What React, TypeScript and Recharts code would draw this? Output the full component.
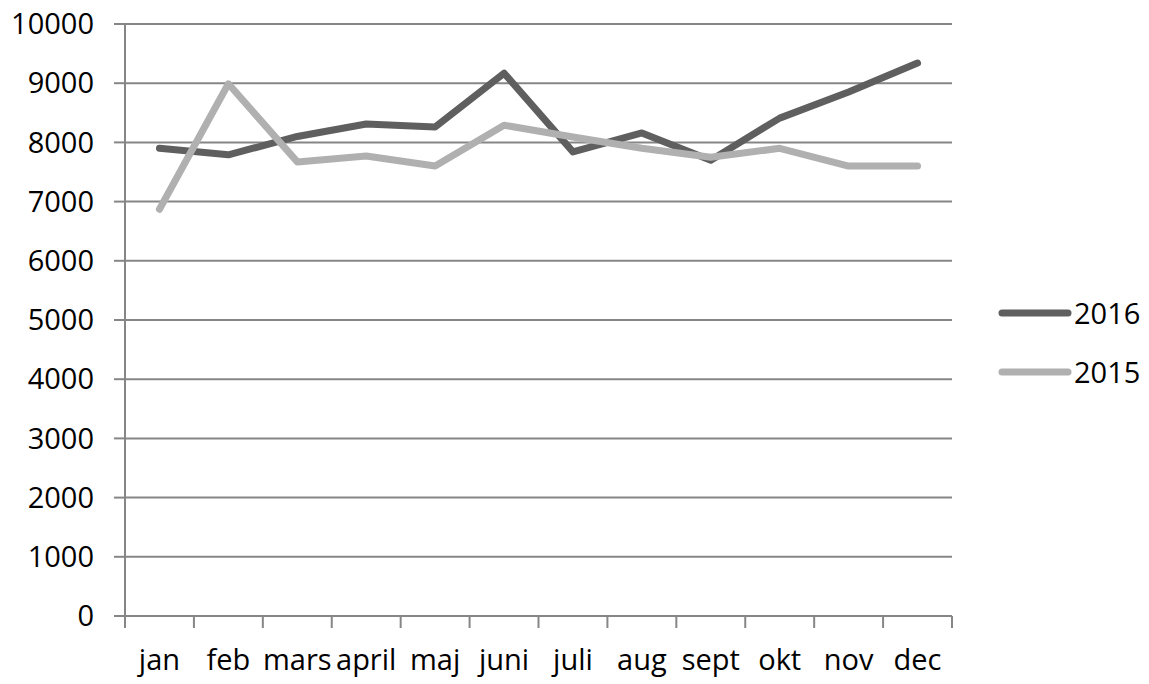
import React from "react";
import { LineChart, Line, XAxis, YAxis, CartesianGrid } from "recharts";

const months = ["jan", "feb", "mars", "april", "maj", "juni", "juli", "aug", "sept", "okt", "nov", "dec"];
const sales2016 = [7900, 7790, 8100, 8310, 8260, 9170, 7840, 8160, 7700, 8410, 8850, 9340];
const sales2015 = [6870, 8990, 7670, 7770, 7600, 8290, 8090, 7900, 7750, 7900, 7600, 7600];
const yTicks = [0, 1000, 2000, 3000, 4000, 5000, 6000, 7000, 8000, 9000, 10000];

const data = months.map((m, i) => ({ month: m, y2016: sales2016[i], y2015: sales2015[i] }));

const FONT = "'Open Sans', sans-serif";
const FS = 29;
const W = 1149;
const H = 684;
const X_H = 68;
const M = { top: 24, right: 197, bottom: 0, left: 0 };
const Y_W = 125;
const BAND = (W - M.right - Y_W) / months.length;

function MonthTick(props: any) {
  const { x, y, payload, index } = props;
  const top = y - 12 - 21;
  return (
    <g>
      <line x1={x - BAND / 2} y1={top} x2={x - BAND / 2} y2={top + 12} stroke="#868686" strokeWidth={2} />
      {index === months.length - 1 && (
        <line x1={x + BAND / 2} y1={top} x2={x + BAND / 2} y2={top + 12} stroke="#868686" strokeWidth={2} />
      )}
      <text x={x} y={y} dy="0.71em" textAnchor="middle" fill="#000" fontSize={FS} fontFamily={FONT}>
        {payload.value}
      </text>
    </g>
  );
}

const legendItems = [
  { name: "2016", color: "#5f5f5f" },
  { name: "2015", color: "#b0b0b0" },
];

export default function App() {
  return (
    <div style={{ position: "absolute", left: 0, top: 0, width: W, height: H, background: "#fff" }}>
      <LineChart width={W} height={H} data={data} margin={M}>
        <CartesianGrid vertical={false} stroke="#868686" strokeWidth={2} />
        <XAxis
          dataKey="month"
          scale="band"
          interval={0}
          tickLine={false}
          axisLine={{ stroke: "#868686", strokeWidth: 2 }}
          tickSize={12}
          tickMargin={21}
          tick={<MonthTick />}
          height={X_H}
        />
        <YAxis
          domain={[0, 10000]}
          ticks={yTicks}
          interval={0}
          width={Y_W}
          tickSize={11}
          tickMargin={20}
          axisLine={{ stroke: "#868686", strokeWidth: 2 }}
          tickLine={{ stroke: "#868686", strokeWidth: 2 }}
          tick={{ fill: "#000", fontSize: FS, fontFamily: FONT }}
        />
        <Line
          dataKey="y2016"
          name="2016"
          stroke="#5f5f5f"
          strokeWidth={7}
          strokeLinecap="round"
          strokeLinejoin="round"
          dot={false}
          activeDot={false}
          isAnimationActive={false}
        />
        <Line
          dataKey="y2015"
          name="2015"
          stroke="#b0b0b0"
          strokeWidth={7}
          strokeLinecap="round"
          strokeLinejoin="round"
          dot={false}
          activeDot={false}
          isAnimationActive={false}
        />
      </LineChart>
      <div style={{ position: "absolute", left: 998, top: 283, fontFamily: FONT, fontSize: FS }}>
        {legendItems.map((it) => (
          <div key={it.name} style={{ display: "flex", alignItems: "center", height: 59 }}>
            <svg width={76} height={10}>
              <line x1={4} y1={5} x2={70} y2={5} stroke={it.color} strokeWidth={7} strokeLinecap="round" />
            </svg>
            <span style={{ color: "#000" }}>{it.name}</span>
          </div>
        ))}
      </div>
    </div>
  );
}
